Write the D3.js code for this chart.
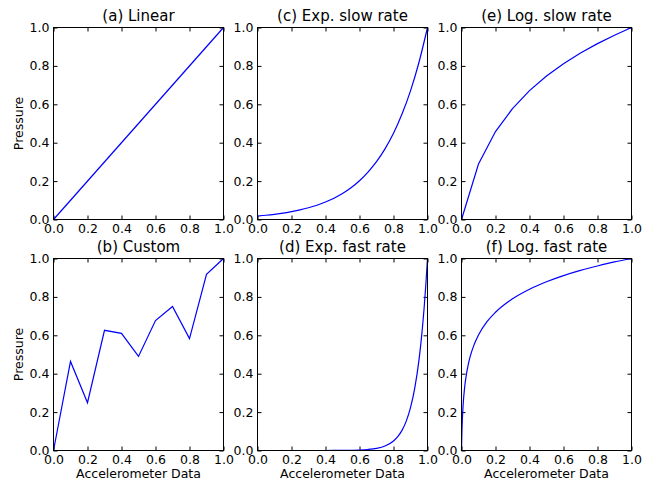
<!DOCTYPE html>
<html>
<head>
<meta charset="utf-8">
<script src="https://cdn.jsdelivr.net/npm/d3@7"></script>
<style>
  body { margin: 0; background: #fff; }
  svg { display: block; font-family: "DejaVu Sans", sans-serif; }
</style>
</head>
<body>
<svg id="chart" width="651" height="483"></svg>
<script>
// values
const tickValues = [0, 0.2, 0.4, 0.6, 0.8, 1.0]

const linearX = [0, 1]
const linearY = [0, 1]

const customX = [0, 0.1, 0.2, 0.3, 0.4, 0.5, 0.6, 0.7, 0.8, 0.9, 1.0]
const customY = [0, 0.464, 0.249, 0.626, 0.61, 0.49, 0.677, 0.75, 0.583, 0.917, 1.0]

const expSlowX = [0, 0.05, 0.1, 0.15, 0.2, 0.25, 0.3, 0.35, 0.4, 0.45, 0.5, 0.55, 0.6, 0.65, 0.7, 0.75, 0.8, 0.85, 0.9, 0.95, 1.0]
const expSlowY = [0.018, 0.022, 0.027, 0.033, 0.041, 0.05, 0.061, 0.074, 0.091, 0.111, 0.135, 0.165, 0.202, 0.247, 0.301, 0.368, 0.449, 0.549, 0.67, 0.819, 1.0]

const expFastX = [0, 0.1, 0.2, 0.3, 0.4, 0.5, 0.6, 0.65, 0.7, 0.75, 0.8, 0.825, 0.85, 0.875, 0.9, 0.925, 0.95, 0.96, 0.97, 0.98, 0.99, 1.0]
const expFastY = [0, 0, 0, 0, 0.0001, 0.0006, 0.0025, 0.0052, 0.011, 0.0235, 0.0498, 0.0724, 0.105, 0.153, 0.223, 0.325, 0.472, 0.549, 0.638, 0.741, 0.861, 1.0]

const logSlowX = [0, 0.1, 0.2, 0.3, 0.4, 0.5, 0.6, 0.7, 0.8, 0.9, 1.0]
const logSlowY = [0, 0.289, 0.458, 0.578, 0.671, 0.747, 0.811, 0.867, 0.916, 0.96, 1.0]

const logFastX = [0, 0.0025, 0.005, 0.01, 0.02, 0.03, 0.04, 0.05, 0.075, 0.1, 0.15, 0.2, 0.3, 0.4, 0.5, 0.6, 0.7, 0.8, 0.9, 1.0]
const logFastY = [0, 0.098, 0.161, 0.243, 0.341, 0.403, 0.449, 0.486, 0.553, 0.602, 0.671, 0.72, 0.79, 0.84, 0.879, 0.911, 0.938, 0.961, 0.982, 1.0]

const panels = [
  { title: '(a) Linear', col: 0, row: 0, xs: linearX, ys: linearY, smooth: false },
  { title: '(b) Custom', col: 0, row: 1, xs: customX, ys: customY, smooth: false },
  { title: '(c) Exp. slow rate', col: 1, row: 0, xs: expSlowX, ys: expSlowY, smooth: true },
  { title: '(d) Exp. fast rate', col: 1, row: 1, xs: expFastX, ys: expFastY, smooth: true },
  { title: '(e) Log. slow rate', col: 2, row: 0, xs: logSlowX, ys: logSlowY, smooth: false },
  { title: '(f) Log. fast rate', col: 2, row: 1, xs: logFastX, ys: logFastY, smooth: true }
]

const colLeft = [53.5, 257.5, 461.5]
const rowTop = [27.5, 258.5]
const pw = 170
const ph = 192
const fmt = d3.format('.1f')

const svg = d3.select('#chart')

panels.forEach(function (p) {
  const g = svg.append('g')
    .attr('transform', 'translate(' + colLeft[p.col] + ',' + rowTop[p.row] + ')')

  const x = d3.scaleLinear().domain([0, 1]).range([0, pw])
  const y = d3.scaleLinear().domain([0, 1]).range([ph, 0])

  // ticks on all four sides, pointing inwards
  const bottom = g.append('g').attr('transform', 'translate(0,' + ph + ')')
    .call(d3.axisBottom(x).tickValues(tickValues).tickFormat(fmt).tickSizeInner(-4).tickSizeOuter(0).tickPadding(4.5))
  const left = g.append('g')
    .call(d3.axisLeft(y).tickValues(tickValues).tickFormat(fmt).tickSizeInner(-4).tickSizeOuter(0).tickPadding(4))
  g.append('g')
    .call(d3.axisTop(x).tickValues(tickValues).tickFormat('').tickSizeInner(-4).tickSizeOuter(0))
  g.append('g').attr('transform', 'translate(' + pw + ',0)')
    .call(d3.axisRight(y).tickValues(tickValues).tickFormat('').tickSizeInner(-4).tickSizeOuter(0))

  g.selectAll('.domain').remove()
  g.selectAll('.tick line').attr('stroke', '#000')
  g.selectAll('.tick text').attr('font-size', 12.5).attr('fill', '#000')
    .attr('font-family', '"DejaVu Sans", sans-serif')
  bottom.attr('font-size', null).attr('font-family', null)
  left.attr('font-size', null).attr('font-family', null)

  const pts = p.xs.map(function (v, i) { return [v, p.ys[i]] })
  const line = d3.line()
    .x(function (d) { return x(d[0]) })
    .y(function (d) { return y(d[1]) })
    .curve(p.smooth ? d3.curveMonotoneX : d3.curveLinear)
  g.append('path')
    .datum(pts)
    .attr('fill', 'none')
    .attr('stroke', '#0000ff')
    .attr('stroke-width', 1.2)
    .attr('d', line)

  g.append('rect')
    .attr('width', pw).attr('height', ph)
    .attr('fill', 'none').attr('stroke', '#000').attr('stroke-width', 1)

  g.append('text')
    .attr('x', pw / 2).attr('y', -7)
    .attr('text-anchor', 'middle')
    .attr('font-size', 15)
    .text(p.title)

  if (p.col === 0) {
    g.append('text')
      .attr('transform', 'translate(' + (19 - colLeft[0]) + ',' + (ph / 2) + ') rotate(-90)')
      .attr('text-anchor', 'middle')
      .attr('dy', '0.35em')
      .attr('font-size', 12.5)
      .text('Pressure')
  }
  if (p.row === 1) {
    g.append('text')
      .attr('x', pw / 2).attr('y', ph + 27.5)
      .attr('text-anchor', 'middle')
      .attr('font-size', 12.5)
      .text('Accelerometer Data')
  }
})
</script>
</body>
</html>
